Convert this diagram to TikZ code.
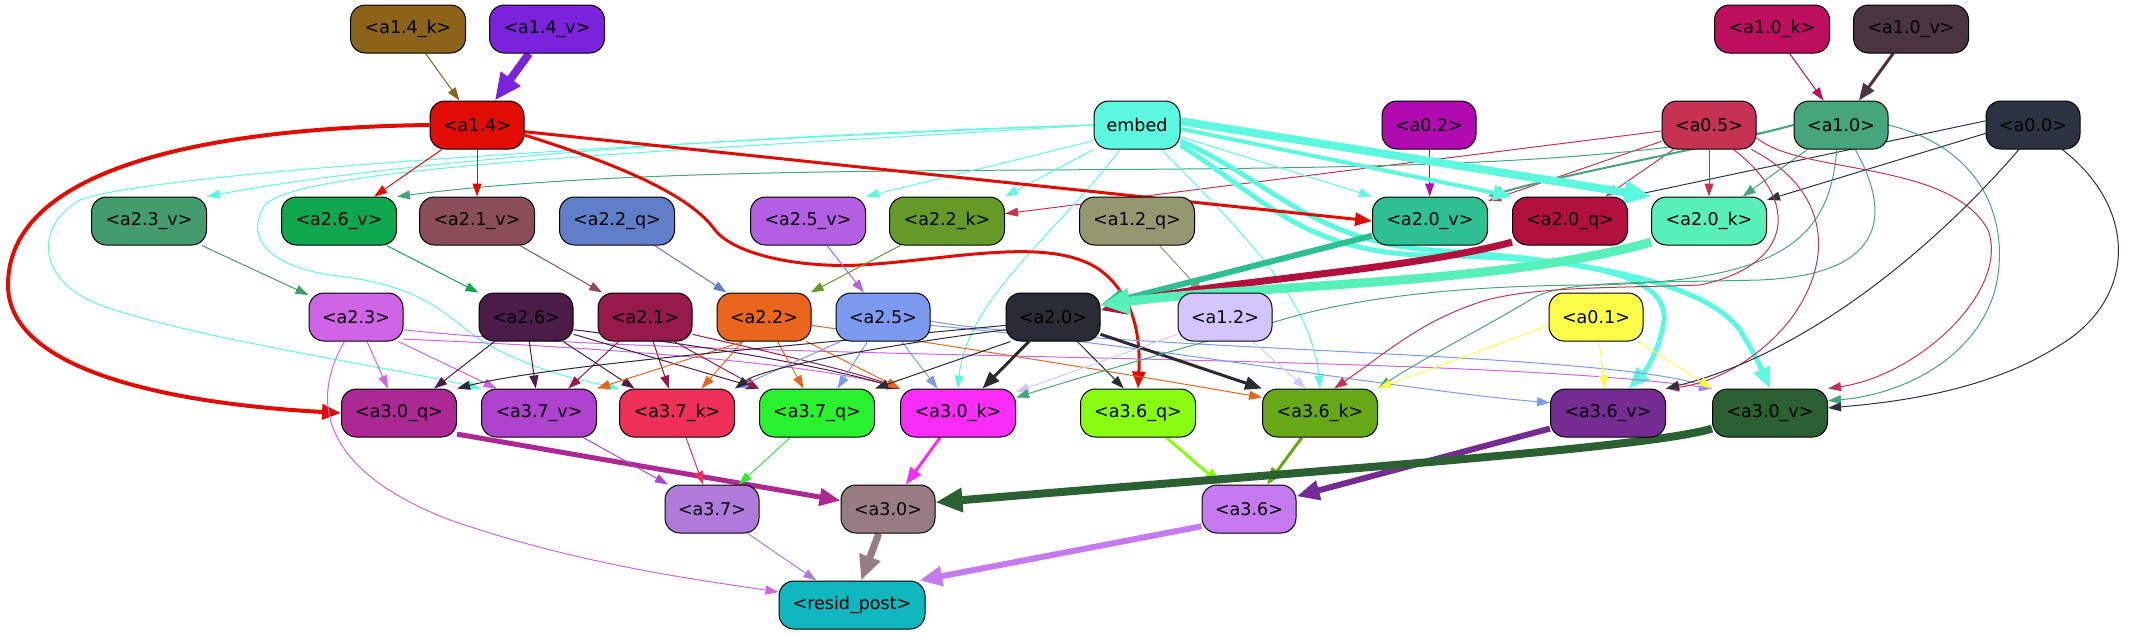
\documentclass[tikz,border=0pt]{standalone}
\usepackage{fontspec}
\setmainfont{DejaVu Sans}
\usetikzlibrary{arrows.meta}
\pgfdeclarelayer{bg}
\pgfsetlayers{bg,main}
\definecolor{c14k}{HTML}{8B6419}
\definecolor{c14v}{HTML}{7B22DC}
\definecolor{c10k}{HTML}{BE0E5E}
\definecolor{c10v}{HTML}{4A343E}
\definecolor{c14}{HTML}{E10D05}
\definecolor{cemb}{HTML}{5CF8E0}
\definecolor{c02}{HTML}{B10AB1}
\definecolor{c05}{HTML}{C63352}
\definecolor{c10}{HTML}{47A57B}
\definecolor{c00}{HTML}{2C3340}
\definecolor{c23v}{HTML}{439C6E}
\definecolor{c26v}{HTML}{0FA84F}
\definecolor{c21v}{HTML}{8B4E58}
\definecolor{c22q}{HTML}{617EC9}
\definecolor{c25v}{HTML}{B35FE3}
\definecolor{c22k}{HTML}{659A28}
\definecolor{c12q}{HTML}{939870}
\definecolor{c20v}{HTML}{2EC093}
\definecolor{c20q}{HTML}{B2113E}
\definecolor{c20k}{HTML}{57F0B8}
\definecolor{c23}{HTML}{CF64E6}
\definecolor{c26}{HTML}{4B1C47}
\definecolor{c21}{HTML}{961A4C}
\definecolor{c22}{HTML}{EA661C}
\definecolor{c25}{HTML}{7B9AF0}
\definecolor{c20}{HTML}{292C34}
\definecolor{c12}{HTML}{D3C5FC}
\definecolor{c01}{HTML}{FBFC47}
\definecolor{c30q}{HTML}{AC2994}
\definecolor{c37v}{HTML}{AF42CE}
\definecolor{c37k}{HTML}{EE2F58}
\definecolor{c37q}{HTML}{2AF12F}
\definecolor{c30k}{HTML}{F92DF7}
\definecolor{c36q}{HTML}{8AFC11}
\definecolor{c36k}{HTML}{67A816}
\definecolor{c36v}{HTML}{742C93}
\definecolor{c30v}{HTML}{2B6132}
\definecolor{c37}{HTML}{B07ADB}
\definecolor{c30}{HTML}{977D81}
\definecolor{c36}{HTML}{C57AF0}
\definecolor{crp}{HTML}{10B7BF}
\newcommand{\nodefont}{\fontsize{17.5}{21}\selectfont}
\begin{document}
\begin{tikzpicture}[x=1pt,y=-1pt,
  nbase/.style={draw=black, line width=1pt, rounded corners=15pt, minimum height=48pt, inner sep=0pt, font=\nodefont, text=black},
  wbox/.style={nbase, minimum width=115pt},
  nbox/.style={nbase, minimum width=94pt},
  e1/.style={line width=1pt,-{Triangle[length=13pt,width=9pt]}},
  e2/.style={line width=2pt,-{Triangle[length=15pt,width=11pt]}},
  e3/.style={line width=3pt,-{Triangle[length=17pt,width=13pt]}},
  e4/.style={line width=4pt,-{Triangle[length=19pt,width=15pt]}},
  e5/.style={line width=5pt,-{Triangle[length=21pt,width=17pt]}},
  e6/.style={line width=6pt,-{Triangle[length=23pt,width=19pt]}},
  e7/.style={line width=7pt,-{Triangle[length=25pt,width=21pt]}},
  e8/.style={line width=8pt,-{Triangle[length=27pt,width=23pt]}},
  e9/.style={line width=9pt,-{Triangle[length=29pt,width=25pt]}}
]
\useasboundingbox (0,0) rectangle (2140,635);
% row 0
\node[wbox, fill=c14k] (a14k) at (408,29) {<a1.4\_k>};
\node[wbox, fill=c14v] (a14v) at (547,29) {<a1.4\_v>};
\node[wbox, fill=c10k] (a10k) at (1772,29) {<a1.0\_k>};
\node[wbox, fill=c10v] (a10v) at (1911,29) {<a1.0\_v>};
% row 1
\node[nbox, fill=c14] (a14) at (477,125) {<a1.4>};
\node[nbase, minimum width=86pt, fill=cemb] (emb) at (1137,125) {embed};
\node[nbox, fill=c02] (a02) at (1429,125) {<a0.2>};
\node[nbox, fill=c05] (a05) at (1709,125) {<a0.5>};
\node[nbox, fill=c10] (a10) at (1841,125) {<a1.0>};
\node[nbox, fill=c00] (a00) at (2033,125) {<a0.0>};
% row 2
\node[wbox, fill=c23v] (a23v) at (149,221) {<a2.3\_v>};
\node[wbox, fill=c26v] (a26v) at (339,221) {<a2.6\_v>};
\node[wbox, fill=c21v] (a21v) at (477,221) {<a2.1\_v>};
\node[wbox, fill=c22q] (a22q) at (617,221) {<a2.2\_q>};
\node[wbox, fill=c25v] (a25v) at (808,221) {<a2.5\_v>};
\node[wbox, fill=c22k] (a22k) at (947,221) {<a2.2\_k>};
\node[wbox, fill=c12q] (a12q) at (1137,221) {<a1.2\_q>};
\node[wbox, fill=c20v] (a20v) at (1430,221) {<a2.0\_v>};
\node[wbox, fill=c20q] (a20q) at (1570,221) {<a2.0\_q>};
\node[wbox, fill=c20k] (a20k) at (1709,221) {<a2.0\_k>};
% row 3
\node[nbox, fill=c23] (a23) at (356,317) {<a2.3>};
\node[nbox, fill=c26] (a26) at (526,317) {<a2.6>};
\node[nbox, fill=c21] (a21) at (645,317) {<a2.1>};
\node[nbox, fill=c22] (a22) at (764,317) {<a2.2>};
\node[nbox, fill=c25] (a25) at (883,317) {<a2.5>};
\node[nbox, fill=c20] (a20) at (1053,317) {<a2.0>};
\node[nbox, fill=c12] (a12) at (1225,317) {<a1.2>};
\node[nbox, fill=c01] (a01) at (1596,317) {<a0.1>};
% row 4
\node[wbox, fill=c30q] (a30q) at (399,413) {<a3.0\_q>};
\node[wbox, fill=c37v] (a37v) at (539,413) {<a3.7\_v>};
\node[wbox, fill=c37k] (a37k) at (677,413) {<a3.7\_k>};
\node[wbox, fill=c37q] (a37q) at (817,413) {<a3.7\_q>};
\node[wbox, fill=c30k] (a30k) at (958,413) {<a3.0\_k>};
\node[wbox, fill=c36q] (a36q) at (1138,413) {<a3.6\_q>};
\node[wbox, fill=c36k] (a36k) at (1320,413) {<a3.6\_k>};
\node[wbox, fill=c36v] (a36v) at (1608,413) {<a3.6\_v>};
\node[wbox, fill=c30v] (a30v) at (1770,413) {<a3.0\_v>};
% row 5
\node[nbox, fill=c37] (a37) at (712,509) {<a3.7>};
\node[nbox, fill=c30] (a30) at (888,509) {<a3.0>};
\node[nbox, fill=c36] (a36) at (1249,509) {<a3.6>};
% row 6
\node[nbase, minimum width=146pt, fill=crp] (rp) at (852,605) {<resid\_post>};

\begin{pgfonlayer}{bg}
% top
\draw[e1,c14k] (a14k) -- (a14);
\draw[e8,c14v] (a14v) -- (a14);
\draw[e1,c10k] (a10k) -- (a10);
\draw[e3,c10v] (a10v) -- (a10);
\draw[e1,c02] (a02) -- (a20v);
\draw[e1,c05] (a05) -- (a20k);
\draw[e1,c05] (a05) -- (a20q);
\draw[e1,c05] (a05) -- (a20v);
\draw[e1,c05] (a05) -- (a22k);
\draw[e1,c10] (a10) -- (a20k);
\draw[e2,c10] (a10.west) .. controls (1700,150) and (1560,175) .. (a20v.north east);
\draw[e1,c10] (a10.west) .. controls (1500,200) and (800,145) .. (a26v.north east);
\draw[e1,c00] (a00.175) -- (a20q.north east);
\draw[e1,c00] (a00.190) -- (a20k.20);
% embed
\draw[e1,cemb] (emb.west) .. controls (750,135) and (400,160) .. (a23v.north east);
\draw[e1,cemb] (emb.west) .. controls (700,140) and (160,170) .. (80,200) .. controls (35,225) and (35,280) .. (100,305) .. controls (200,340) and (380,365) .. (a37v.north west);
\draw[e1,cemb] (emb.west) .. controls (700,150) and (300,165) .. (265,205) .. controls (245,235) and (265,265) .. (330,275) .. controls (420,285) and (440,310) .. (480,340) .. controls (530,370) and (580,380) .. (a37k.north west);
\draw[e1,cemb] (emb.200) -- (a25v.north east);
\draw[e1,cemb] (emb.south west) -- (a22k.north east);
\draw[e1,cemb] (emb.-125) .. controls (1060,230) and (966,300) .. (a30k.north);
\draw[e1,cemb] (emb.-45) .. controls (1240,230) and (1312,300) .. (a36k.north);
\draw[e1,cemb] (emb.-15) -- (a20v.north west);
\draw[e4,cemb] (emb.-5) -- (a20q.north west);
\draw[e8,cemb] (emb.5) -- (a20k.north west);
\draw[e5,cemb] (emb.-25) .. controls (1260,195) and (1300,250) .. (1420,255) .. controls (1560,258) and (1668,268) .. (1664,320) .. controls (1660,350) and (1645,372) .. (a36v.50);
\draw[e5,cemb] (emb.-20) .. controls (1270,180) and (1310,240) .. (1430,250) .. controls (1620,262) and (1710,290) .. (1740,330) .. controls (1755,355) and (1762,370) .. (a30v.north);
% a1.4
\draw[e1,c14] (a14) -- (a26v);
\draw[e1,c14] (a14) -- (a21v);
\draw[e3,c14] (a14.-8) -- (a20v.west);
\draw[e4,c14] (a14.west) .. controls (200,128) and (8,170) .. (8,285) .. controls (8,390) and (250,408) .. (a30q.west);
\draw[e3,c14] (a14.-12) .. controls (620,165) and (690,195) .. (715,230) .. controls (735,255) and (800,268) .. (860,265) .. controls (950,260) and (1050,235) .. (1100,270) .. controls (1140,300) and (1140,350) .. (a36q.north);
% row2 -> row3
\draw[e1,c23v] (a23v) -- (a23);
\draw[e1,c26v] (a26v) -- (a26);
\draw[e1,c21v] (a21v) -- (a21);
\draw[e1,c22q] (a22q) -- (a22);
\draw[e1,c22k] (a22k) -- (a22);
\draw[e1,c25v] (a25v) -- (a25);
\draw[e1,c12q] (a12q) -- (a12);
\draw[e6,c20v] (a20v) -- (a20);
\draw[e7,c20q] (a20q.-160) .. controls (1400,272) and (1200,282) .. (a20.8);
\draw[e9,c20k] (a20k.-160) .. controls (1500,285) and (1250,285) .. (a20.14);
% a2.3
\draw[e1,c23] (a23) -- (a30q);
\draw[e1,c23] (a23.-30) -- (a37v.150);
\draw[e1,c23] (a23.-115) .. controls (310,400) and (320,470) .. (450,520) .. controls (580,565) and (700,580) .. (rp.170);
\draw[e1,c23] (a23.-15) .. controls (700,362) and (1450,352) .. (a30v.north west);
\draw[e1,c23] (a23.-25) .. controls (550,345) and (800,360) .. (a30k.north west);
% a2.6
\draw[e1,c26] (a26) -- (a30q.35);
\draw[e1,c26] (a26) -- (a37v);
\draw[e1,c26] (a26) -- (a37k.150);
\draw[e1,c26] (a26.-20) -- (a37q.north west);
\draw[e1,c26] (a26.-15) .. controls (700,345) and (820,365) .. (a30k.north west);
% a2.1
\draw[e1,c21] (a21) -- (a37v.40);
\draw[e1,c21] (a21) -- (a37k);
\draw[e1,c21] (a21.-40) -- (a37q.north west);
\draw[e1,c21] (a21.-20) .. controls (760,350) and (850,370) .. (a30k.north west);
% a2.2
\draw[e1,c22] (a22.-130) -- (a37v.north east);
\draw[e1,c22] (a22) -- (a37k.45);
\draw[e1,c22] (a22) -- (a37q);
\draw[e1,c22] (a22.-30) -- (a30k.north west);
\draw[e1,c22] (a22.-10) .. controls (950,345) and (1150,378) .. (a36k.165);
% a2.5
\draw[e1,c25] (a25.-150) -- (a37k.north east);
\draw[e1,c25] (a25) -- (a37q.50);
\draw[e1,c25] (a25) -- (a30k.130);
\draw[e1,c25] (a25.-10) .. controls (1150,345) and (1400,390) .. (a36v.170);
\draw[e1,c25] (a25.-5) .. controls (1100,350) and (1600,352) .. (a30v.north west);
% a2.0
\draw[e1,c20] (a20.-170) .. controls (800,345) and (550,365) .. (a30q.north east);
\draw[e1,c20] (a20.-165) .. controls (850,350) and (760,370) .. (a37k.north east);
\draw[e1,c20] (a20.-150) -- (a37q.north east);
\draw[e3,c20] (a20) -- (a30k.45);
\draw[e1,c20] (a20) -- (a36q.120);
\draw[e3,c20] (a20.-20) -- (a36k.north west);
% a1.2
\draw[e1,c12] (a12.-160) -- (a30k.20);
\draw[e1,c12] (a12) -- (a36k.120);
% a1.0 long
\draw[e1,c10] (a10.-100) .. controls (1830,240) and (1780,280) .. (1600,285) .. controls (1450,285) and (1350,300) .. (1288,318) .. controls (1220,338) and (1120,365) .. (a30k.15);
\draw[e1,c10] (a10.-60) .. controls (1895,220) and (1880,275) .. (1760,280) .. controls (1640,283) and (1560,280) .. (1530,300) .. controls (1480,330) and (1420,360) .. (a36k.north east);
\draw[e1,c10] (a10.east) .. controls (1990,150) and (2010,230) .. (1995,290) .. controls (1975,360) and (1900,395) .. (a30v.12);
% a0.5 long
\draw[e1,c05] (a05.-45) .. controls (1800,200) and (1795,265) .. (1700,285) .. controls (1620,288) and (1530,286) .. (1480,302) .. controls (1420,322) and (1390,350) .. (a36k.60);
\draw[e1,c05] (a05.-30) .. controls (1830,190) and (1835,260) .. (1790,320) .. controls (1750,370) and (1700,385) .. (a36v.north east);
\draw[e1,c05] (a05.-15) .. controls (1800,175) and (1950,160) .. (1988,230) .. controls (2010,290) and (1920,375) .. (a30v.north east);
% a0.0 long
\draw[e1,c00] (a00.-120) .. controls (1950,230) and (1820,350) .. (a36v.north east);
\draw[e1,c00] (a00.-40) .. controls (2140,210) and (2135,300) .. (2060,345) .. controls (1990,390) and (1900,402) .. (a30v.5);
% a0.1
\draw[e1,c01] (a01) -- (a36v);
\draw[e1,c01] (a01.-30) -- (a30v.north west);
\draw[e1,c01] (a01.190) -- (a36k.north east);
% row4 -> row5
\draw[e5,c30q] (a30q.-20) -- (a30.170);
\draw[e1,c37v] (a37v) -- (a37);
\draw[e1,c37k] (a37k) -- (a37);
\draw[e1,c37q] (a37q) -- (a37);
\draw[e3,c30k] (a30k) -- (a30);
\draw[e3,c36q] (a36q) -- (a36);
\draw[e3,c36k] (a36k) -- (a36);
\draw[e6,c36v] (a36v.-165) -- (a36.15);
\draw[e8,c30v] (a30v.-165) .. controls (1650,448) and (1300,472) .. (a30.8);
% row5 -> row6
\draw[e1,c37] (a37) -- (rp);
\draw[e7,c30] (a30) -- (rp);
\draw[e6,c36] (a36.-160) -- (rp.20);
\end{pgfonlayer}
\end{tikzpicture}
\end{document}
